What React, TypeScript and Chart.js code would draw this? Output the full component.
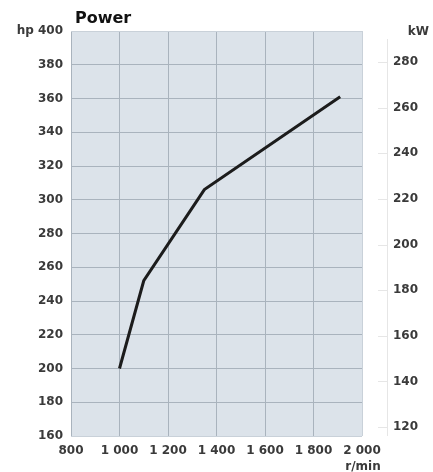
import React, { useEffect, useRef } from "react";
import { Chart, registerables } from "chart.js";

Chart.register(...registerables);

const speedRpm = [1000, 1100, 1350, 1910];
const powerHp = [200, 252, 306, 361];
const xTicks = [800, 1000, 1200, 1400, 1600, 1800, 2000];
const xTickLabels = ["800", "1 000", "1 200", "1 400", "1 600", "1 800", "2 000"];
const kwTicks = [120, 140, 160, 180, 200, 220, 240, 260, 280];

const FONT = "'DejaVu Sans', Verdana, sans-serif";
const TICK_COLOR = "#3a3a3a";
const GRID = "#a9b3bd";
const EDGE = "#c9d1d9";

const decorPlugin = {
  id: "decor",
  beforeDraw(chart: any) {
    const { ctx, chartArea: a } = chart;
    ctx.save();
    ctx.fillStyle = "#dce3ea";
    ctx.fillRect(a.left, a.top, a.right - a.left, a.bottom - a.top);
    ctx.restore();
  },
  afterDraw(chart: any) {
    const { ctx, chartArea: a } = chart;
    const y2 = chart.scales.y2;
    ctx.save();
    ctx.strokeStyle = "#e6e6e6";
    ctx.lineWidth = 1;
    ctx.beginPath();
    ctx.moveTo(387.5, a.top + 8);
    ctx.lineTo(387.5, a.bottom);
    for (const v of kwTicks) {
      const py = Math.round(y2.getPixelForValue(v)) + 0.5;
      ctx.moveTo(378, py);
      ctx.lineTo(387.5, py);
    }
    ctx.stroke();

    ctx.fillStyle = "#111";
    ctx.font = `bold 16px ${FONT}`;
    ctx.textAlign = "left";
    ctx.textBaseline = "alphabetic";
    ctx.fillText("Power", a.left + 4, 23);

    ctx.fillStyle = TICK_COLOR;
    ctx.font = `bold 12px ${FONT}`;
    ctx.textAlign = "right";
    ctx.fillText("kW", 429, 35);

    ctx.textAlign = "center";
    ctx.fillText("r/min", a.right + 1, 470);
    ctx.restore();
  },
};

export default function App() {
  const ref = useRef<HTMLCanvasElement | null>(null);

  useEffect(() => {
    if (!ref.current) return;
    const chart = new Chart(ref.current, {
      type: "line",
      data: {
        datasets: [
          {
            data: speedRpm.map((x, i) => ({ x, y: powerHp[i] })),
            borderColor: "#1c1c1c",
            borderWidth: 3,
            pointRadius: 0,
            tension: 0,
            fill: false,
            yAxisID: "y",
          },
        ],
      },
      options: {
        animation: false,
        responsive: true,
        maintainAspectRatio: false,
        layout: { padding: { top: 31, left: 0, right: 0, bottom: 0 } },
        plugins: {
          legend: { display: false },
          tooltip: { enabled: false },
          title: { display: false },
        },
        scales: {
          x: {
            type: "linear",
            min: 800,
            max: 2000,
            afterBuildTicks: (axis: any) => {
              axis.ticks = xTicks.map((v) => ({ value: v }));
            },
            afterFit: (s: any) => {
              s.height = 36;
            },
            ticks: {
              padding: 8,
              color: TICK_COLOR,
              font: { family: FONT, size: 12, weight: "bold" },
              maxRotation: 0,
              autoSkip: false,
              callback: (v: any) => {
                const i = xTicks.indexOf(Number(v));
                return i >= 0 ? xTickLabels[i] : "";
              },
            },
            grid: {
              color: (c: any) => (c.tick && c.tick.value === 2000 ? EDGE : GRID),
              drawTicks: false,
              lineWidth: 1,
            },
            border: { display: false },
          },
          y: {
            type: "linear",
            position: "left",
            min: 160,
            max: 400,
            afterFit: (s: any) => {
              s.width = 71;
            },
            ticks: {
              stepSize: 20,
              padding: 8,
              color: TICK_COLOR,
              font: { family: FONT, size: 12, weight: "bold" },
              callback: (v: any) => (Number(v) === 400 ? "hp 400" : String(v)),
            },
            grid: {
              color: (c: any) =>
                c.tick && (c.tick.value === 400 || c.tick.value === 160) ? EDGE : GRID,
              drawTicks: false,
              lineWidth: 1,
            },
            border: { display: false },
          },
          y2: {
            type: "linear",
            position: "right",
            min: 116.1,
            max: 293.6,
            afterBuildTicks: (axis: any) => {
              axis.ticks = kwTicks.map((v) => ({ value: v }));
            },
            afterFit: (s: any) => {
              s.width = 71;
            },
            ticks: {
              padding: 1,
              color: TICK_COLOR,
              font: { family: FONT, size: 12, weight: "bold" },
              autoSkip: false,
            },
            grid: { display: false, drawTicks: true, tickLength: 30 },
            border: { display: false },
          },
        },
      },
      plugins: [decorPlugin],
    });
    return () => chart.destroy();
  }, []);

  return (
    <div style={{ position: "fixed", left: 0, top: 0, width: 433, height: 472, background: "#fff" }}>
      <canvas ref={ref} />
    </div>
  );
}
